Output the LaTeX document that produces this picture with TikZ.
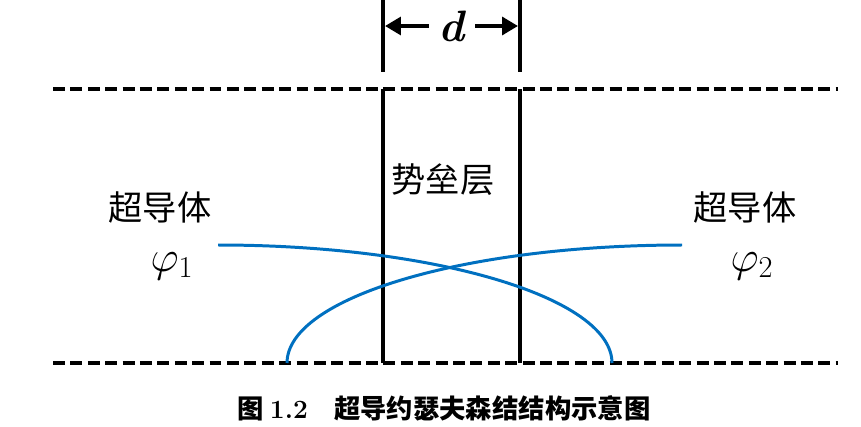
\documentclass[tikz,border=0pt]{standalone}
\usepackage{fontspec}
\newfontfamily\cjk{Noto Sans CJK SC}
\usetikzlibrary{arrows.meta}
\definecolor{waveblue}{RGB}{0,112,192}
\begin{document}
\begin{tikzpicture}[x=0.02cm,y=-0.02cm,
                boundary/.style={line width=1.9pt,dash pattern=on 6.8pt off 3.1pt},
                wall/.style={line width=2.3pt},
                wave/.style={line width=1.7pt,color=waveblue},
                dimline/.style={line width=2.3pt,-{Triangle[length=9pt,width=10pt]}},
                label/.style={font=\cjk\fontsize{19.5}{21}\selectfont,inner sep=0pt}
                ]
  \useasboundingbox (0,0) rectangle (861,426);
  % interfaces
  \coordinate (tl) at (53,89);
  \coordinate (tr) at (838,89);
  \coordinate (bl) at (53,363);
  \coordinate (br) at (838,363);
  \draw[boundary] (tl) -- (tr);
  \draw[boundary] (bl) -- (br);
  % barrier walls
  \coordinate (wl) at (383,89);
  \coordinate (wr) at (520,89);
  \coordinate (wlb) at (383,363);
  \coordinate (wrb) at (520,363);
  \draw[wall] (wl) -- (wlb);
  \draw[wall] (wr) -- (wrb);
  \draw[wall] (383,0) coordinate (wlt) -- (383,72);
  \draw[wall] (520,0) coordinate (wrt) -- (520,72);
  % width d
  \node[inner sep=5pt] (d) at (452,26) {\fontsize{25}{27}\selectfont\textbf{\textit{d}}};
  \coordinate (dl) at (385,26);
  \coordinate (dr) at (518,26);
  \draw[dimline] (d) -- (dl);
  \draw[dimline] (d) -- (dr);
  % wave functions
  \draw[wave] (218,245) arc[start angle=-90,end angle=0,x radius=394,y radius=118];
  \draw[wave] (682,245) arc[start angle=-90,end angle=-180,x radius=395,y radius=118];
  % labels
  \node[label] (barrier) at (443,180) {势垒层};
  \node[label] (scl) at (160,207) {超导体};
  \node[label] (scr) at (745,207) {超导体};
  \node (phil) at (172,266) {\fontsize{26}{28}\selectfont$\varphi_1$};
  \node (phir) at (752,266) {\fontsize{26}{28}\selectfont$\varphi_2$};
  \node (caption) at (444,408) {\cjk\bfseries\fontsize{15}{17}\selectfont 图 \textrm{1.2}\quad 超导约瑟夫森结结构示意图};
\end{tikzpicture}
\end{document}
